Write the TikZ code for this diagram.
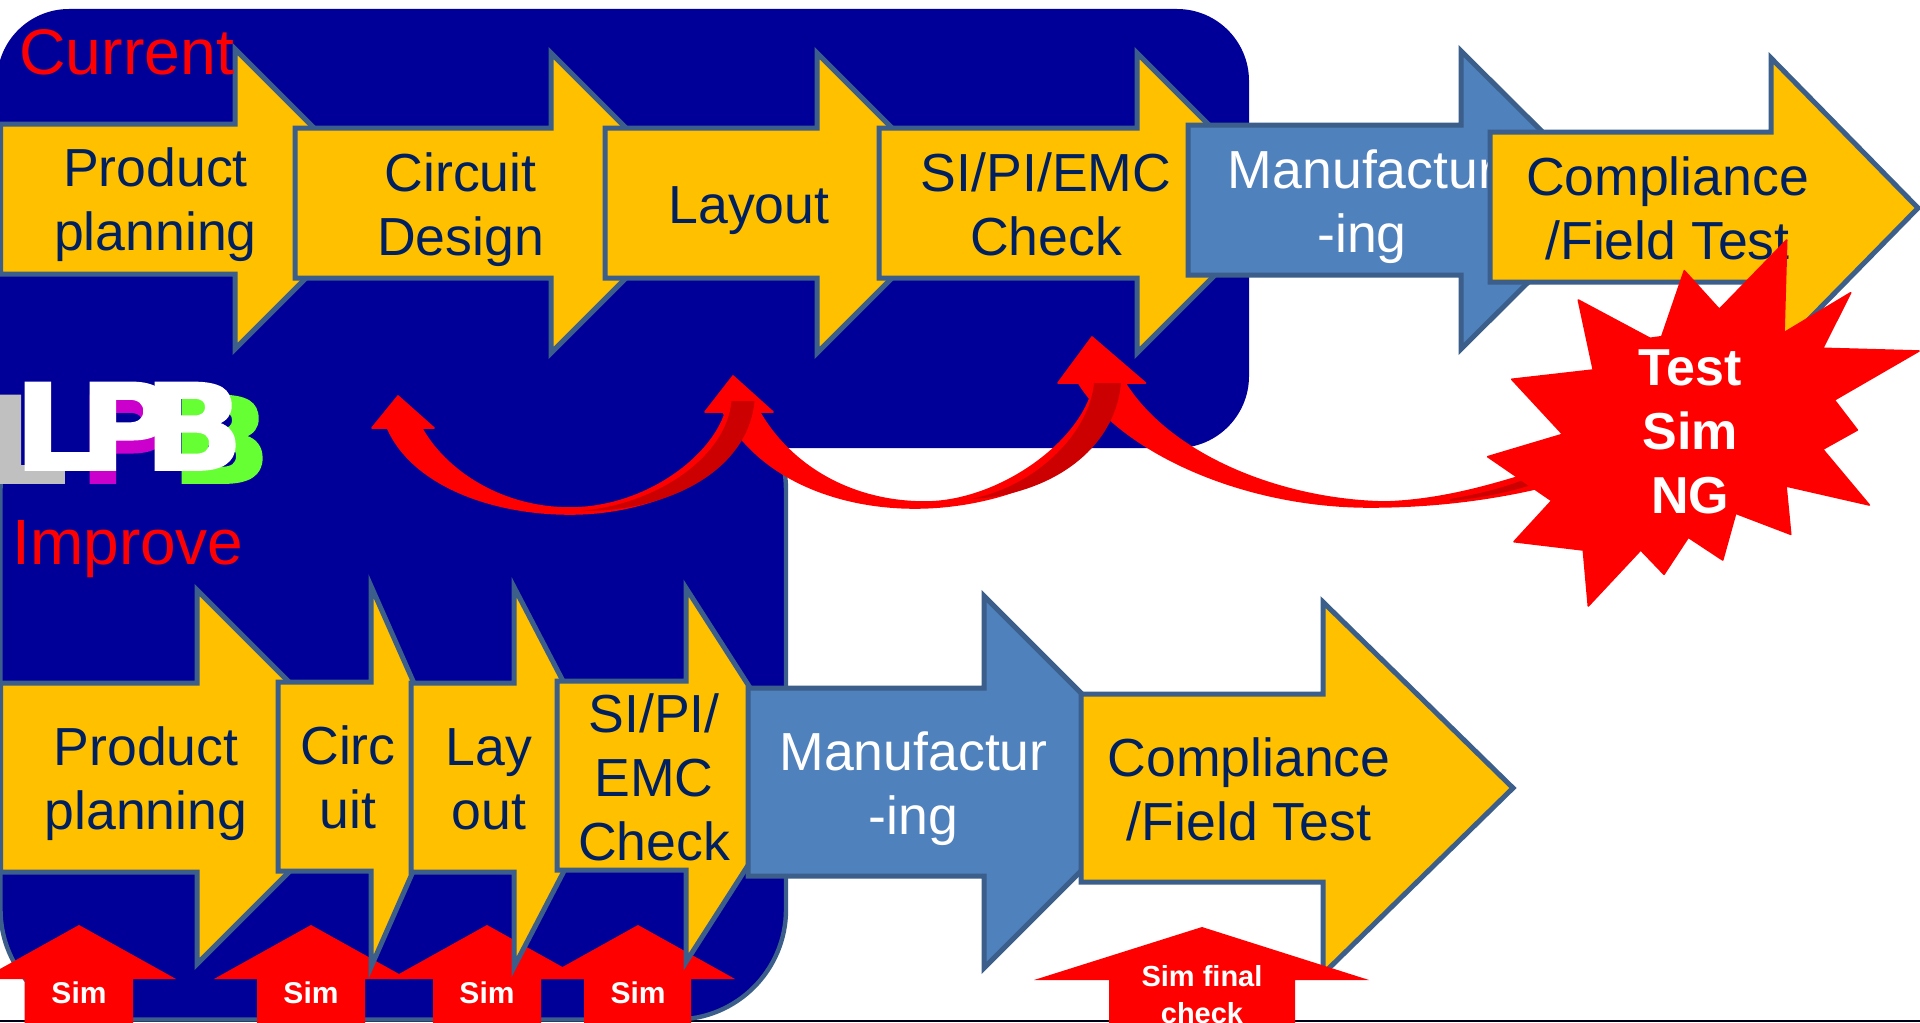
\documentclass[tikz,border=0pt]{standalone}
\usepackage{fontspec}
\setmainfont{Liberation Sans}
\newfontfamily\logofont[FakeBold=1.5,FakeStretch=1.1]{DejaVu Sans Bold}
\definecolor{panelblue}{HTML}{000099}
\definecolor{amberfill}{HTML}{FFC000}
\definecolor{bluefill}{HTML}{4F81BD}
\definecolor{edgeblue}{HTML}{3B5F8A}
\definecolor{navytext}{HTML}{002060}
\definecolor{foldred}{HTML}{CC0000}
\definecolor{logogrey}{HTML}{C0C0C0}
\definecolor{logomag}{HTML}{CC00CC}
\definecolor{logogreen}{HTML}{66FF33}
\newcommand{\flowarrow}[9]{%
  \draw[#1] (#2,#3) -- (#5,#3) -- (#5,#6) -- (#8,#9) -- (#5,#7) -- (#5,#4) -- (#2,#4) -- cycle;}
\tikzset{
  x=0.5pt,y=-0.5pt,
  amberarrow/.style={fill=amberfill,draw=edgeblue,line width=2.5pt,miter limit=20},
  bluearrow/.style={fill=bluefill,draw=edgeblue,line width=2.5pt,miter limit=20},
  steplabel/.style={anchor=base,align=center,inner sep=0pt,text=navytext,font=\fontsize{26.8}{32}\selectfont},
  whitelabel/.style={anchor=base,align=center,inner sep=0pt,text=white,font=\fontsize{26.8}{32}\selectfont},
  simlabel/.style={anchor=base,align=center,inner sep=0pt,text=white,font=\fontsize{15}{18}\selectfont\bfseries},
  finallabel/.style={anchor=base,align=center,inner sep=0pt,text=white,font=\fontsize{14.5}{18}\selectfont\bfseries},
  banner/.style={anchor=base west,inner sep=0pt,text=red},
  logoletter/.style={anchor=base west,inner sep=0pt,font=\fontsize{60}{60}\selectfont\logofont},
  curve/.style={fill=red,draw=red,line width=0.8pt,line join=round},
  fold/.style={fill=foldred},
  redarrow/.style={fill=red},
}
\begin{document}
\begin{tikzpicture}
\useasboundingbox (0,0) rectangle (1920,1022);
\clip (0,0) rectangle (1920,1022);
\fill[white] (0,0) rectangle (1920,1022);
% page rule
\fill[black!90!blue] (0,1020) rectangle (1920,1022);
% panels
\draw[fill=panelblue,draw=edgeblue,line width=2.2pt,rounded corners=110*0.5pt] (0.5,380) rectangle (786,1019.5);
\fill[panelblue,rounded corners=72*0.5pt] (-3,9) rectangle (1249,448);
% sim arrows lower row
\fill[redarrow] (24.5,1030) -- (24.5,979) -- (-18,979) -- (79,925) -- (176,979) -- (133,979) -- (133,1030) -- cycle;
\node[simlabel] (s1) at (79,1003) {Sim};
\fill[redarrow] (257,1030) -- (257,979) -- (214,979) -- (311,925) -- (408,979) -- (365,979) -- (365,1030) -- cycle;
\node[simlabel] (s2) at (311,1003) {Sim};
\fill[redarrow] (433,1030) -- (433,979) -- (390,979) -- (487,925) -- (584,979) -- (541,979) -- (541,1030) -- cycle;
\node[simlabel] (s3) at (487,1003) {Sim};
\fill[redarrow] (584,1030) -- (584,979) -- (541,979) -- (638,925) -- (735,979) -- (691,979) -- (691,1030) -- cycle;
\node[simlabel] (s4) at (638,1003) {Sim};
% top row
\flowarrow{amberarrow}{0.5}{124}{274}{235}{49}{349}{385}{199}
\node[steplabel] (a1) at (155.5,250) {Product\\planning};
\flowarrow{amberarrow}{295}{128}{278}{551}{53}{353}{701}{203}
\node[steplabel] (a2) at (460.5,255) {Circuit\\Design};
\flowarrow{amberarrow}{605}{128}{278}{817}{53}{353}{967}{203}
\node[steplabel] (a3) at (749,223) {Layout};
\flowarrow{amberarrow}{879}{128}{278}{1137}{53}{353}{1287}{203}
\node[steplabel] (a4) at (1046,255) {SI/PI/EMC\\Check};
\flowarrow{bluearrow}{1188}{125}{275}{1461}{51}{349}{1611}{200}
\node[whitelabel] (a5) at (1362,252) {Manufactur\\-ing};
\flowarrow{amberarrow}{1490}{132}{282}{1771}{58}{358}{1918}{208}
\node[steplabel] (a6) at (1667.5,259) {Compliance\\/Field Test};
% bottom row
\flowarrow{amberarrow}{0.5}{683}{872}{197}{590}{964}{384}{777}
\node[steplabel] (b1) at (146,829) {Product\\planning};
\flowarrow{amberarrow}{278}{682}{871}{371}{586}{967}{455}{776}
\node[steplabel] (b2) at (348,828) {Circ\\uit};
\flowarrow{amberarrow}{411}{683}{872}{514}{587}{967}{613}{777}
\node[steplabel] (b3) at (489,829) {Lay\\out};
\flowarrow{amberarrow}{557}{681}{870}{686}{588}{962}{806}{775}
\node[steplabel] (b4) at (654,860) {SI/PI/\\EMC\\Check};
\flowarrow{bluearrow}{748}{688}{876}{984}{596}{968}{1170}{782}
\node[whitelabel] (b5) at (913.5,834) {Manufactur\\-ing};
\flowarrow{amberarrow}{1081}{694}{882}{1323}{602}{974}{1513}{788}
\node[steplabel] (b6) at (1249,840) {Compliance\\/Field Test};
% sim final
\fill[redarrow] (1109,1030) -- (1109,980) -- (1034,980) -- (1202,927) -- (1369,980) -- (1295,980) -- (1295,1030) -- cycle;
\node[finallabel] (s5) at (1202,986) {Sim final};
\node[finallabel] (s6) at (1202,1023) {check};
% banners
\node[banner,font=\fontsize{32.2}{32}\selectfont] (cur) at (19,75) {Current};
\node[banner,font=\fontsize{32}{32}\selectfont] (imp) at (12,564) {Improve};
% logo
\node[logoletter,text=logogrey] (l1) at (-17,483) {L};
\node[logoletter,text=logomag] (l2) at (78,483) {P};
\node[logoletter,text=logogreen] (l3) at (170,483) {B};
\node[logoletter,text=white] (l4) at (13,470) {L};
\node[logoletter,text=white] (l5) at (78,470) {P};
\node[logoletter,text=white] (l6) at (143,470) {B};
% curved arrow 3
\path[curve] (1092,337) -- (1145.5,383) -- (1125,383)
  .. controls (1170,455) and (1280,500) .. (1385,502)
  .. controls (1450,500) and (1510,480) .. (1570,460)
  -- (1570,480)
  .. controls (1500,500) and (1430,507) .. (1370,507)
  .. controls (1240,507) and (1120,450) .. (1078.6,383)
  -- (1058,383) -- cycle;
\path[fold] (1450,499) .. controls (1480,494) and (1505,487) .. (1523,480) -- (1570,470) -- (1570,478) -- (1528,486) .. controls (1505,493) and (1480,498) .. (1450,501) -- cycle;
% curved arrow 2
\path[curve] (733,376) -- (773,412) -- (759.5,412)
  .. controls (790,465) and (850,502) .. (925,502)
  .. controls (1000,502) and (1085,440) .. (1094,383)
  -- (1121,383)
  .. controls (1110,470) and (1000,508) .. (915,508)
  .. controls (840,508) and (760,480) .. (723,412)
  -- (705,412) -- cycle;
\path[fold] (1094,383) .. controls (1090,430) and (1040,485) .. (971,499)
  .. controls (1050,495) and (1115,450) .. (1121,383) -- cycle;
% curved arrow 1
\path[curve] (398,396) -- (434,428) -- (421.6,428)
  .. controls (445,470) and (500,508) .. (570,508)
  .. controls (650,508) and (722,450) .. (728,401)
  -- (754.5,401)
  .. controls (745,470) and (660,514) .. (570,514)
  .. controls (490,514) and (412,484) .. (387.5,428)
  -- (372,428) -- cycle;
\path[fold] (731.5,401) .. controls (727,455) and (660,504) .. (580,511)
  .. controls (670,512) and (748,470) .. (754.5,401) -- cycle;
% star
\path[fill=red,draw=red,line width=0.8pt,line join=round]
 (1786.7,240) -- (1784,332.7) -- (1850.7,292.7) -- (1822.7,348.3) -- (1919,351) -- (1834.3,400) -- (1857.3,430) -- (1822.7,449.3) -- (1869.3,505) -- (1786,486) -- (1790.7,534.3) -- (1735.7,513.3) -- (1722.7,560) -- (1688.3,537.3) -- (1664,574.3) -- (1640.7,550) -- (1588.3,606) -- (1583.3,550) -- (1514,541.7) -- (1551.7,500.7) -- (1487.7,456.7) -- (1562.7,434.3) -- (1511.7,379.3) -- (1593.3,370) -- (1578.3,300) -- (1650,338.3) -- (1661.7,336.7) -- (1684.3,270.7) -- (1719.3,309.3) -- cycle;
\node[simlabel,font=\fontsize{26}{32}\selectfont\bfseries] (st) at (1690,513) {Test\\Sim\\NG};
\end{tikzpicture}
\end{document}
